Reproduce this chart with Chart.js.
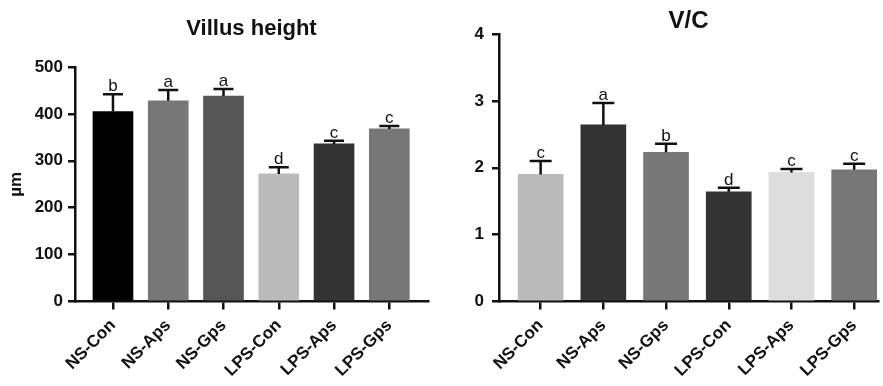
<!DOCTYPE html>
<html>
<head>
<meta charset="utf-8">
<script src="https://cdn.jsdelivr.net/npm/chart.js@4.4.1/dist/chart.umd.min.js"></script>
<style>
  html, body { margin: 0; padding: 0; background: #fff; }
  #wrap { position: relative; width: 883px; height: 386px; }
  canvas { position: absolute; top: 0; }
</style>
</head>
<body>
<div id="wrap">
  <canvas id="villus" width="441" height="386" style="left:0"></canvas>
  <canvas id="vc" width="442" height="386" style="left:441px"></canvas>
</div>
<script>
// data
const groups = ['NS-Con', 'NS-Aps', 'NS-Gps', 'LPS-Con', 'LPS-Aps', 'LPS-Gps'];

const villusMean = [405, 428, 438, 272, 336, 368];
const villusErr = [37, 23, 15, 14, 7, 6];
const villusLetters = ['b', 'a', 'a', 'd', 'c', 'c'];
const villusTicks = [0, 100, 200, 300, 400, 500];

const vcMean = [1.90, 2.64, 2.23, 1.64, 1.93, 1.97];
const vcErr = [0.20, 0.33, 0.13, 0.06, 0.05, 0.09];
const vcLetters = ['c', 'a', 'b', 'd', 'c', 'c'];
const vcTicks = [0, 1, 2, 3, 4];

const villusColors = ['#000000', '#777777', '#555555', '#bbbbbb', '#333333', '#777777'];
const vcColors = ['#bbbbbb', '#333333', '#777777', '#333333', '#dddddd', '#777777'];

Chart.defaults.font.family = "'Liberation Sans', Arial, sans-serif";
Chart.defaults.color = '#111';

const ink = '#111';

// upward error bar + significance letter on each bar
function errorPlugin(mean, err, letters, cap) {
  return {
    id: 'errorBars',
    afterDatasetsDraw(chart) {
      const ctx = chart.ctx;
      const y = chart.scales.y;
      const meta = chart.getDatasetMeta(0);
      ctx.save();
      ctx.strokeStyle = ink;
      ctx.fillStyle = ink;
      ctx.lineWidth = 2.5;
      ctx.font = "17px 'Liberation Sans', Arial, sans-serif";
      ctx.textAlign = 'center';
      ctx.textBaseline = 'alphabetic';
      meta.data.forEach((bar, i) => {
        const top = y.getPixelForValue(mean[i] + err[i]);
        ctx.beginPath();
        ctx.moveTo(bar.x, bar.y);
        ctx.lineTo(bar.x, top);
        ctx.moveTo(bar.x - cap / 2, top);
        ctx.lineTo(bar.x + cap / 2, top);
        ctx.stroke();
        ctx.fillText(letters[i], bar.x, top - 3);
      });
      ctx.restore();
    }
  };
}

function makeChart(id, cfg) {
  return new Chart(document.getElementById(id), {
    type: 'bar',
    data: {
      datasets: [{
        data: cfg.mean.map((v, i) => ({ x: i, y: v })),
        backgroundColor: cfg.colors,
        borderWidth: 0,
        barThickness: cfg.barWidth
      }]
    },
    options: {
      responsive: false,
      animation: false,
      layout: { padding: { left: 0, right: cfg.padRight, top: 0, bottom: 0 } },
      plugins: {
        legend: { display: false },
        tooltip: { enabled: false },
        title: {
          display: true,
          text: cfg.title,
          fullSize: false,
          color: ink,
          font: { size: cfg.titleSize, weight: 'bold', lineHeight: 1 },
          padding: cfg.titlePad
        }
      },
      scales: {
        x: {
          type: 'linear',
          offset: false,
          min: cfg.xMin,
          max: cfg.xMax,
          afterBuildTicks: s => { s.ticks = groups.map((g, i) => ({ value: i })); },
          afterFit: s => { s.height = 84.5; },
          ticks: {
            callback: v => groups[v],
            autoSkip: false,
            maxRotation: 45,
            minRotation: 45,
            padding: 6,
            color: ink,
            font: { size: 17, weight: 'bold' }
          },
          grid: { offset: false, drawOnChartArea: false, drawTicks: true, tickLength: 8, color: ink, lineWidth: 2.5 },
          border: { display: true, color: ink, width: 2.5 }
        },
        y: {
          min: cfg.yTicks[0],
          max: cfg.yTicks[cfg.yTicks.length - 1],
          afterBuildTicks: s => { s.ticks = cfg.yTicks.map(v => ({ value: v })); },
          afterFit: s => { s.width = cfg.yWidth; },
          ticks: {
            padding: cfg.yPad,
            color: ink,
            font: { size: 17, weight: 'bold' }
          },
          grid: { drawOnChartArea: false, drawTicks: true, tickLength: 7, color: ink, lineWidth: 2.5 },
          border: { display: true, color: ink, width: 2.5 },
          title: {
            display: !!cfg.yTitle,
            text: cfg.yTitle,
            color: ink,
            font: { size: 17, weight: 'bold' },
            padding: { top: 6, bottom: 0 }
          }
        }
      }
    },
    plugins: [errorPlugin(cfg.mean, cfg.err, cfg.letters, cfg.cap)]
  });
}

makeChart('villus', {
  title: 'Villus height',
  titleSize: 22,
  titlePad: { top: 18, bottom: 27 },
  mean: villusMean, err: villusErr, letters: villusLetters, colors: villusColors,
  yTicks: villusTicks, yTitle: 'µm', yWidth: 75, yPad: 5,
  xMin: -0.687, xMax: 5.70, barWidth: 40, cap: 20, padRight: 13
});

makeChart('vc', {
  title: 'V/C',
  titleSize: 24,
  titlePad: { top: 9.5, bottom: 0.5 },
  mean: vcMean, err: vcErr, letters: vcLetters, colors: vcColors,
  yTicks: vcTicks, yTitle: '', yWidth: 58, yPad: 8,
  xMin: -0.664, xMax: 5.38, barWidth: 45, cap: 22, padRight: 5
});
</script>
</body>
</html>
